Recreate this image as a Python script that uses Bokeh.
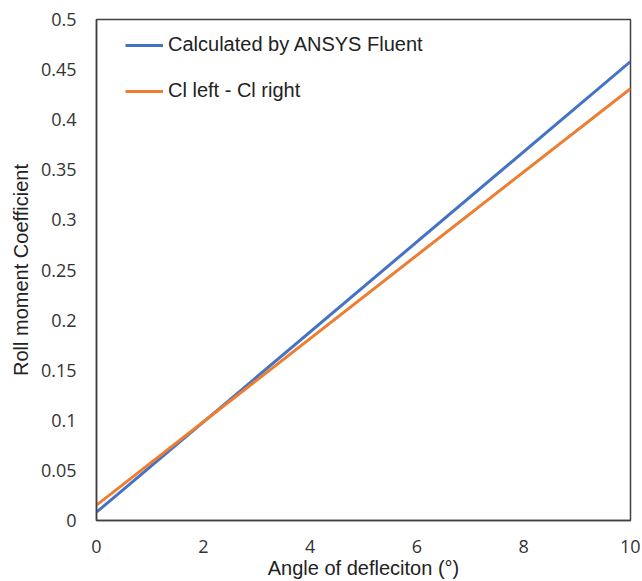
from bokeh.plotting import figure
from bokeh.models import FixedTicker, Legend, LegendItem, Range1d
from bokeh.embed import file_html
from bokeh.resources import INLINE

# Data
angle = [0, 10]
fluent = [0.0083, 0.458]
cl_diff = [0.0153, 0.431]
x_ticks = [0, 2, 4, 6, 8, 10]
y_ticks = [0, 0.05, 0.1, 0.15, 0.2, 0.25, 0.3, 0.35, 0.4, 0.45, 0.5]
y_tick_labels = ["0", "0.05", "0.1", "0.15", "0.2", "0.25", "0.3", "0.35", "0.4", "0.45", "0.5"]
series_names = ["Calculated by ANSYS Fluent", "Cl left - Cl right"]

p = figure(width=640, height=581, output_backend="svg", toolbar_location=None,
           x_range=Range1d(0, 10), y_range=Range1d(0, 0.5),
           min_border_left=96, min_border_right=10, min_border_top=19, min_border_bottom=60)

r1 = p.line(angle, fluent, line_color="#4472C4", line_width=3)
r2 = p.line(angle, cl_diff, line_color="#ED7D31", line_width=3)

p.xgrid.visible = False
p.ygrid.visible = False
p.outline_line_color = "#404040"
p.outline_line_width = 1.5
p.background_fill_color = "white"
p.border_fill_color = "white"

p.xaxis.ticker = FixedTicker(ticks=x_ticks)
p.yaxis.ticker = FixedTicker(ticks=y_ticks)
p.yaxis.major_label_overrides = {t: l for t, l in zip(y_ticks, y_tick_labels)}

for ax in (p.xaxis, p.yaxis):
    ax.axis_line_color = "#404040"
    ax.axis_line_width = 1.5
    ax.major_tick_line_color = None
    ax.minor_tick_line_color = None
    ax.major_tick_out = 0
    ax.major_tick_in = 0
    ax.major_label_text_font = "Open Sans"
    ax.major_label_text_font_size = "18px"
    ax.major_label_text_color = "#333333"
    ax.axis_label_text_font = "Liberation Sans"
    ax.axis_label_text_font_size = "20px"
    ax.axis_label_text_font_style = "normal"
    ax.axis_label_text_color = "#222222"

p.xaxis.major_label_standoff = 19
p.yaxis.major_label_standoff = 20
p.xaxis.axis_label = "Angle of defleciton (°)"
p.yaxis.axis_label = "Roll moment Coefficient"
p.xaxis.axis_label_standoff = 1
p.yaxis.axis_label_standoff = 6

legend = Legend(items=[LegendItem(label=series_names[0], renderers=[r1]),
                       LegendItem(label=series_names[1], renderers=[r2])],
                location=(29, 418), border_line_color=None, background_fill_alpha=0,
                padding=0, margin=0, glyph_width=38, glyph_height=20, spacing=23,
                label_standoff=5, label_text_font="Liberation Sans",
                label_text_font_size="20px", label_text_color="#222222")
p.add_layout(legend)

open("out.html", "w").write(file_html(p, INLINE))
